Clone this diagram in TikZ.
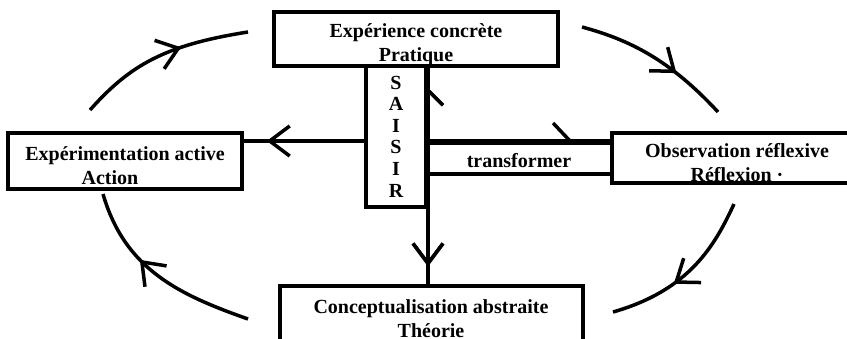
\documentclass[tikz,border=0pt]{standalone}
\usepackage{fontspec}
\setmainfont{Liberation Serif}
\usetikzlibrary{arrows.meta,decorations.markings}
\newcommand{\haut}[1]{\rule{0pt}{#1}}
\begin{document}
\begin{tikzpicture}[x=1pt, y=-1pt,
        boite/.style={draw, line width=4pt, inner sep=0pt, align=center,
            font=\bfseries\fontsize{20}{24}\selectfont},
        trait/.style={line width=3.5pt},
        pointe/.style={postaction={decorate}, decoration={markings,
            mark=at position #1 with {\arrow{Straight Barb[length=20pt, width=30pt]}}}},
        harpon/.style={postaction={decorate}, decoration={markings,
            mark=at position #1 with {\arrow{Straight Barb[harpoon, length=17pt, width=36pt]}}}},
        harponinv/.style={postaction={decorate}, decoration={markings,
            mark=at position #1 with {\arrowreversed{Straight Barb[harpoon, length=15pt, width=30pt]}}}}]
    \useasboundingbox (0,0) rectangle (847,338);
    \clip (0,0) rectangle (847,338);
    % les quatre boites
    \node[boite, minimum width=284pt, minimum height=54pt] (pratique) at (416,39) {\haut{25pt}Expérience concrète\\Pratique};
    \node[boite, minimum width=234pt, minimum height=56pt] (action) at (125,161) {\haut{24pt}Expérimentation active\\Action\hspace*{30pt}};
    \node[boite, minimum width=250pt, minimum height=50pt] (reflexion) at (737,158) {\haut{23pt}Observation réflexive\\Réflexion\ ·};
    \node[boite, minimum width=303pt, minimum height=66pt] (theorie) at (431,319) {Conceptualisation abstraite\\Théorie};
    % saisir et transformer
    \node[boite, minimum width=60pt, minimum height=141pt, font=\bfseries\fontsize{20}{21.6}\selectfont] (saisir) at (396,136.5) {S\\A\\I\\S\\I\\R};
    \node[boite, minimum width=186pt, minimum height=31pt] (transf) at (519,158.5) {\haut{19pt}transformer};
    % fleches
    \draw[trait, pointe=0.92, harponinv=0.1] (saisir.north east) -- (saisir.north east |- theorie.north);
    \draw[trait, pointe=0.81] (saisir.west |- transf.north) -- (action.east |- transf.north);
    \draw[trait, harpon=0.79] (transf.north west) -- (transf.north east);
    % le cycle
    \coordinate (c1) at (90,110);
    \coordinate (c2) at (248,32);
    \coordinate (c3) at (582,27);
    \coordinate (c4) at (718,112);
    \coordinate (c5) at (734,204);
    \coordinate (c6) at (613,312);
    \coordinate (c7) at (248,319);
    \coordinate (c8) at (103,194);
    \draw[trait, pointe=0.62] (c1) .. controls (130,65) and (165,45) .. (c2);
    \draw[trait, pointe=0.65] (c3) .. controls (630,40) and (670,60) .. (c4);
    \draw[trait, pointe=0.6] (c5) .. controls (715,245) and (690,290) .. (c6);
    \draw[trait, pointe=0.62] (c7) .. controls (180,295) and (125,270) .. (c8);
\end{tikzpicture}
\end{document}
